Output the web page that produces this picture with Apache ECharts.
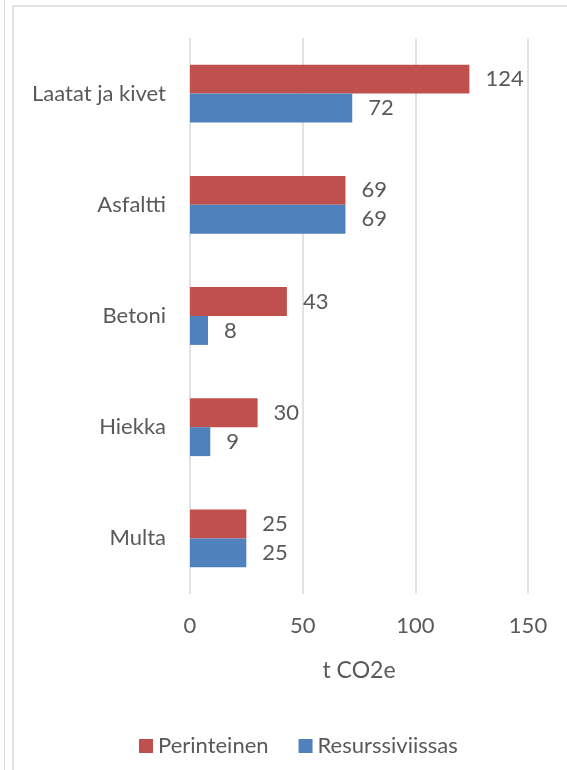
<!DOCTYPE html>
<html>
<head>
<meta charset="utf-8">
<script src="https://cdn.jsdelivr.net/npm/echarts@6/dist/echarts.min.js"></script>
<style>html,body{margin:0;padding:0;background:#fff;}#c{width:567px;height:770px;}</style>
</head>
<body>
<div id="c"></div>
<script>
const categories = ['Laatat ja kivet', 'Asfaltti', 'Betoni', 'Hiekka', 'Multa'];
const seriesNames = ['Perinteinen', 'Resurssiviissas'];
const perinteinen = [124, 69, 43, 30, 25];
const resurssiviissas = [72, 69, 8, 9, 25];
const xTicks = [0, 50, 100, 150];
const axisTitle = 't CO2e';

const FONT = 'Lato';
const TXT = '#595959';
const FS = 22;
const chart = echarts.init(document.getElementById('c'), null, {renderer: 'canvas'});
const labelCfg = {show: true, position: 'right', distance: 16, color: TXT, fontFamily: FONT, fontSize: FS};
chart.setOption({
  animation: false,
  graphic: [
    {type: 'rect', shape: {x: 4, y: -2, width: 1, height: 780}, style: {fill: '#D9D9D9'}, silent: true},
    {type: 'rect', shape: {x: 13, y: 6, width: 600, height: 800}, style: {fill: 'none', stroke: '#D9D9D9', lineWidth: 1.5}, silent: true}
  ],
  grid: {left: 190, right: 39, top: 38, bottom: 176, containLabel: false},
  legend: {
    data: seriesNames, bottom: 8, left: 134, itemWidth: 14, itemHeight: 14, itemGap: 30,
    icon: 'rect', textStyle: {color: TXT, fontFamily: FONT, fontSize: FS}
  },
  xAxis: {
    type: 'value', min: xTicks[0], max: xTicks[xTicks.length - 1], interval: 50,
    name: axisTitle, nameLocation: 'middle', nameGap: 65,
    nameTextStyle: {color: TXT, fontFamily: FONT, fontSize: 23},
    axisLine: {show: false}, axisTick: {show: false},
    axisLabel: {color: TXT, fontFamily: FONT, fontSize: FS, margin: 21},
    splitLine: {lineStyle: {color: '#D9D9D9', width: 1.5}}
  },
  yAxis: {
    type: 'category', data: categories, inverse: true,
    axisLine: {show: false}, axisTick: {show: false},
    axisLabel: {color: TXT, fontFamily: FONT, fontSize: FS, margin: 24}
  },
  series: [
    {name: seriesNames[0], type: 'bar', data: perinteinen, itemStyle: {color: '#C0504D'}, barGap: '0%', barCategoryGap: '48%', label: labelCfg},
    {name: seriesNames[1], type: 'bar', data: resurssiviissas, itemStyle: {color: '#4F81BD'}, barGap: '0%', barCategoryGap: '48%', label: labelCfg}
  ]
});
</script>
</body>
</html>
